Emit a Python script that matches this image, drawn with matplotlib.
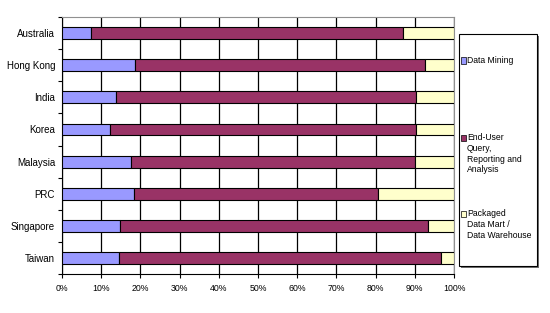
import matplotlib
matplotlib.use("Agg")
import matplotlib.pyplot as plt
import numpy as np
from matplotlib.patches import Rectangle

plt.rcParams['font.family'] = ['Liberation Sans', 'DejaVu Sans']

countries = ['Australia', 'Hong Kong', 'India', 'Korea', 'Malaysia', 'PRC', 'Singapore', 'Taiwan']
data_mining = [7.4, 18.7, 13.8, 12.3, 17.6, 18.4, 14.8, 14.6]
end_user = [79.6, 73.9, 76.6, 78.1, 72.4, 62.1, 78.6, 82.0]
packaged = [13.0, 7.4, 9.6, 9.6, 10.0, 19.5, 6.6, 3.4]

series_names = ['Data Mining', 'End-User\nQuery,\nReporting and\nAnalysis',
                'Packaged\nData Mart /\nData Warehouse']
colors = ['#9999FF', '#993366', '#FFFFCC']

fig = plt.figure(figsize=(5.5, 3.13), dpi=100)
ax = fig.add_axes([0.1127, 0.1246, 0.7127, 0.821])

y = np.arange(len(countries))
left = np.zeros(len(countries))
for vals, c in zip([data_mining, end_user, packaged], colors):
    ax.barh(y, vals, left=left, height=0.37, color=c, edgecolor='black',
            linewidth=0.8, zorder=3)
    left = left + np.array(vals)

ax.set_xlim(0, 100)
ax.set_ylim(len(countries) - 0.5, -0.5)
ax.set_xticks(np.arange(0, 101, 10))
ax.set_xticklabels([f'{v}%' for v in range(0, 101, 10)], fontsize=6.3)
ax.set_yticks(y)
ax.set_yticklabels(countries, fontsize=7)
ax.set_yticks(np.arange(-0.5, len(countries), 1), minor=True)
ax.tick_params(axis='y', which='major', length=0, pad=5)
ax.tick_params(axis='y', which='minor', length=3, direction='out', width=0.8)
ax.tick_params(axis='x', length=3, direction='out', width=0.8, pad=4)
ax.xaxis.grid(True, color='black', linewidth=0.9, zorder=0)
ax.set_axisbelow(True)
for s in ['top', 'right']:
    ax.spines[s].set_color('#909090')
for s in ['left', 'bottom']:
    ax.spines[s].set_color('black')

# legend box drawn by hand so the handles line up with the first text line
fig.patches.append(Rectangle((461 / 550, 1 - 268 / 313), 78 / 550, 232 / 313,
                             transform=fig.transFigure, facecolor='#707070',
                             edgecolor='none', zorder=0))
fig.patches.append(Rectangle((459 / 550, 1 - 266 / 313), 78 / 550, 232 / 313,
                             transform=fig.transFigure, facecolor='white',
                             edgecolor='black', linewidth=0.8, zorder=1))
entry_y = [60, 137, 213]
for name, c, ey in zip(series_names, colors, entry_y):
    fig.patches.append(Rectangle((460.5 / 550, 1 - (ey + 3.5) / 313), 5 / 550, 6 / 313,
                                 transform=fig.transFigure, facecolor=c,
                                 edgecolor='black', linewidth=0.5, zorder=2))
    fig.text(467 / 550, 1 - (ey - 4) / 313, name, fontsize=6.2, va='top',
             ha='left', linespacing=1.25, zorder=3)

fig.savefig('out.png', dpi=100)
